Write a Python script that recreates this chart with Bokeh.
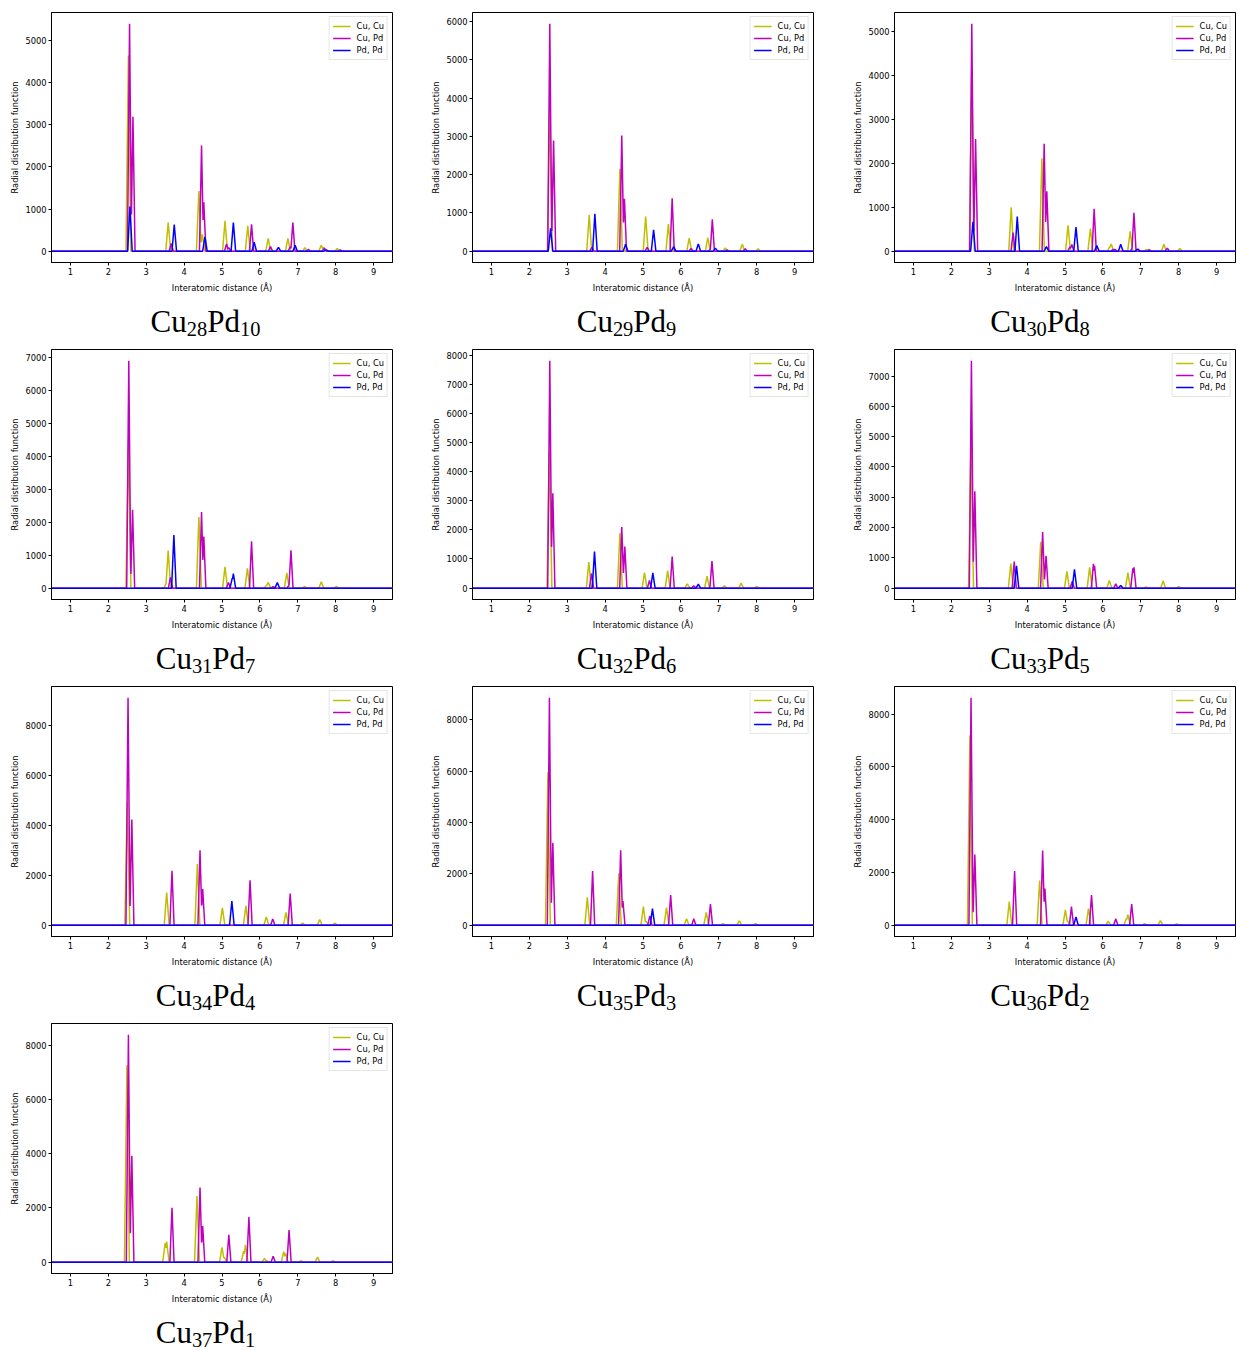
import numpy as np
from bokeh.plotting import figure
from bokeh.models import Range1d, FixedTicker, Legend, LegendItem, Div
from bokeh.layouts import row, column
from bokeh.embed import file_html
from bokeh.resources import INLINE

# ---------------- data (peak position in Å, peak height) ----------------
cu_atoms = [28, 29, 30, 31, 32, 33, 34, 35, 36, 37]
pd_atoms = [10, 9, 8, 7, 6, 5, 4, 3, 2, 1]
series_labels = ["Cu, Cu", "Cu, Pd", "Pd, Pd"]
x_ticks = [1, 2, 3, 4, 5, 6, 7, 8, 9]
y_tick_steps = [1000, 1000, 1000, 1000, 1000, 1000, 2000, 2000, 2000, 2000]

cucu_28 = [(2.53, 4650), (3.58, 680), (4.39, 1430), (4.48, 400), (5.08, 720), (5.68, 600), (6.22, 300),
           (6.74, 300), (7.19, 80), (7.62, 140), (7.68, 90), (8.04, 60)]
cupd_28 = [(2.56, 5400), (2.65, 3190), (3.66, 180), (4.46, 2510), (4.52, 1160), (5.12, 170), (5.18, 80),
           (5.78, 640), (6.28, 110), (6.80, 100), (6.87, 680), (7.28, 40), (7.70, 70), (8.12, 30)]
pdpd_28 = [(2.57, 1060), (3.74, 630), (4.55, 340), (5.30, 680), (5.85, 210), (6.49, 90), (6.93, 140), (7.75, 30)]

cucu_29 = [(2.54, 3800), (3.58, 940), (4.39, 2150), (5.07, 905), (5.67, 710), (6.22, 340), (6.71, 350),
           (7.17, 80), (7.62, 180), (8.04, 60)]
cupd_29 = [(2.54, 5940), (2.64, 2890), (3.65, 100), (4.44, 3020), (4.51, 1370), (5.11, 100), (5.77, 1380),
           (6.27, 70), (6.78, 60), (6.83, 830), (7.22, 30), (7.70, 60)]
pdpd_29 = [(2.56, 595), (3.73, 975), (4.54, 180), (5.28, 560), (5.81, 120), (6.46, 190), (6.91, 80)]

cucu_30 = [(2.54, 4200), (3.58, 1000), (4.39, 2110), (5.08, 585), (5.67, 515), (6.18, 100), (6.22, 165),
           (6.72, 450), (7.15, 40), (7.21, 40), (7.61, 155), (8.03, 60)]
cupd_30 = [(2.54, 5170), (2.64, 2550), (3.63, 420), (4.45, 2440), (4.52, 1360), (5.13, 100), (5.18, 150),
           (5.77, 965), (6.27, 40), (6.32, 40), (6.78, 80), (6.82, 870), (7.22, 30), (7.70, 70)]
pdpd_30 = [(2.57, 670), (3.74, 785), (4.51, 105), (5.29, 545), (5.84, 125), (6.47, 155), (6.92, 50)]

cucu_31 = [(2.53, 4500), (3.53, 150), (3.58, 1140), (4.39, 2160), (5.08, 650), (5.67, 600), (6.18, 100),
           (6.22, 180), (6.71, 460), (7.18, 50), (7.62, 190), (8.02, 50)]
cupd_31 = [(2.54, 6900), (2.64, 2380), (3.64, 330), (4.46, 2310), (4.52, 1570), (5.17, 170), (5.78, 1420),
           (6.35, 50), (6.77, 100), (6.82, 1150)]
pdpd_31 = [(3.73, 1610), (5.27, 300), (5.30, 440), (6.46, 170)]

cucu_32 = [(2.53, 4700), (3.57, 895), (4.39, 1890), (5.04, 530), (5.65, 600), (6.17, 150), (6.69, 410),
           (7.15, 80), (7.59, 170), (8.00, 60)]
cupd_32 = [(2.54, 7800), (2.62, 3260), (3.64, 510), (4.44, 2100), (4.52, 1430), (5.17, 260), (5.77, 1080),
           (6.34, 80), (6.82, 930)]
pdpd_32 = [(3.72, 1260), (5.26, 520), (6.46, 135)]

cucu_33 = [(2.52, 4800), (3.57, 810), (4.36, 1530), (5.05, 555), (5.65, 690), (6.17, 250), (6.66, 510),
           (7.14, 40), (7.59, 240), (8.00, 50)]
cupd_33 = [(2.53, 7500), (2.62, 3200), (3.66, 880), (4.41, 1850), (4.50, 1070), (5.19, 220), (5.75, 800),
           (5.78, 740), (6.34, 140), (6.79, 650), (6.82, 690)]
pdpd_33 = [(3.72, 740), (5.25, 620), (6.47, 90)]

cucu_34 = [(2.50, 4930), (3.54, 1310), (4.35, 2450), (5.01, 690), (5.63, 770), (6.17, 330), (6.69, 515),
           (7.13, 80), (7.58, 225), (7.98, 80)]
cupd_34 = [(2.52, 9120), (2.62, 4240), (3.68, 2180), (4.42, 3000), (4.49, 1450), (5.74, 1800), (6.34, 250),
           (6.80, 1270)]
pdpd_34 = [(5.26, 965)]

cucu_35 = [(2.49, 5960), (3.53, 1080), (4.36, 2020), (5.01, 720), (5.08, 150), (5.62, 680), (6.15, 245),
           (6.67, 500), (7.11, 60), (7.54, 170), (7.97, 60)]
cupd_35 = [(2.53, 8860), (2.62, 3210), (3.67, 2110), (4.41, 2920), (4.47, 940), (5.18, 360), (5.73, 1170),
           (6.34, 245), (6.78, 820)]
pdpd_35 = [(5.25, 640)]

cucu_36 = [(2.49, 7200), (3.53, 890), (4.33, 1690), (5.01, 575), (5.07, 150), (5.62, 625), (6.14, 150),
           (6.62, 250), (6.66, 400), (7.10, 60), (7.52, 175), (7.95, 50)]
cupd_36 = [(2.52, 8620), (2.62, 2680), (3.67, 2050), (4.41, 2830), (4.47, 1390), (5.17, 700), (5.70, 1140),
           (6.34, 240), (6.76, 800)]
pdpd_36 = [(5.29, 310)]

cucu_37 = [(2.49, 7260), (3.50, 700), (3.54, 755), (4.34, 2440), (5.00, 540), (5.06, 180), (5.57, 400),
           (5.62, 635), (6.12, 135), (6.18, 50), (6.63, 390), (6.68, 320), (7.08, 50), (7.52, 185), (7.93, 50)]
cupd_37 = [(2.53, 8380), (2.62, 3920), (3.68, 2000), (4.42, 2750), (4.49, 1330), (5.18, 1010), (5.71, 1660),
           (6.35, 220), (6.77, 1180)]
pdpd_37 = []

structures = [
    (cucu_28, cupd_28, pdpd_28), (cucu_29, cupd_29, pdpd_29), (cucu_30, cupd_30, pdpd_30),
    (cucu_31, cupd_31, pdpd_31), (cucu_32, cupd_32, pdpd_32), (cucu_33, cupd_33, pdpd_33),
    (cucu_34, cupd_34, pdpd_34), (cucu_35, cupd_35, pdpd_35), (cucu_36, cupd_36, pdpd_36),
    (cucu_37, cupd_37, pdpd_37),
]

# ---------------- styling ----------------
COLORS = ["#bfbf00", "#bf00bf", "#0000ff"]
HALF_WIDTHS = [0.065, 0.055, 0.06]
R_GRID = np.linspace(0.5, 9.5, 1801)
FONT = "DejaVu Sans"
FS = "8.3px"

FRAME_W = 341
FRAME_H = 252
BORDER_L = 51
BORDER_T = 12
BORDER_B = 31
COL_W = [421, 422, 394]
TITLE_PAD = [0, 0, 17]
TITLE_W = [411, 411, 377]
FIG_H = BORDER_T + FRAME_H + BORDER_B
CELL_H = 337


def curve(peaks, hw):
    y = np.zeros_like(R_GRID)
    for r0, g in peaks:
        tri = g * np.clip(1.0 - np.abs(R_GRID - r0) / hw, 0.0, None)
        y = np.maximum(y, tri)
    return y


def make_cell(i, col):
    peaks = structures[i]
    M = max([g for s in peaks for _, g in s] + [1])
    W = COL_W[col]
    p = figure(width=W, height=FIG_H, x_range=Range1d(0.5, 9.5), y_range=Range1d(-0.05 * M, 1.05 * M),
               output_backend="svg", toolbar_location=None,
               min_border_left=BORDER_L, min_border_right=W - BORDER_L - FRAME_W,
               min_border_top=BORDER_T, min_border_bottom=BORDER_B)
    p.xgrid.visible = False
    p.ygrid.visible = False
    p.outline_line_color = "black"
    p.outline_line_alpha = 1.0
    p.outline_line_width = 1
    p.background_fill_color = "white"
    p.border_fill_color = "white"

    renderers = []
    for s, color, hw in zip(peaks, COLORS, HALF_WIDTHS):
        r = p.line(R_GRID, curve(s, hw), line_color=color, line_width=1.5)
        renderers.append(r)

    step = y_tick_steps[i]
    p.xaxis.ticker = FixedTicker(ticks=x_ticks)
    p.yaxis.ticker = FixedTicker(ticks=list(range(0, int(1.05 * M) + 1, step)))
    p.xaxis.axis_label = "Interatomic distance (Å)"
    p.yaxis.axis_label = "Radial distribution function"
    for ax, standoff in ((p.xaxis, 5), (p.yaxis, 2)):
        ax.axis_label_text_font = FONT
        ax.axis_label_text_font_size = FS
        ax.axis_label_text_font_style = "normal"
        ax.axis_label_text_color = "black"
        ax.axis_label_standoff = standoff
        ax.major_label_text_font = FONT
        ax.major_label_text_font_size = FS
        ax.major_label_text_color = "black"
        ax.major_label_standoff = 2
        ax.major_tick_out = 3
        ax.major_tick_in = 0
        ax.minor_tick_out = 0
        ax.minor_tick_in = 0
        ax.axis_line_color = "black"
        ax.major_tick_line_color = "black"

    legend = Legend(items=[LegendItem(label=lab, renderers=[rr]) for lab, rr in zip(series_labels, renderers)],
                    location="top_right")
    legend.label_text_font = FONT
    legend.label_text_font_size = FS
    legend.label_text_color = "black"
    legend.label_height = 12
    legend.glyph_height = 12
    legend.glyph_width = 18
    legend.label_standoff = 6
    legend.padding = 3
    legend.spacing = 0
    legend.margin = 4
    legend.border_line_color = "#cccccc"
    legend.border_line_width = 1
    legend.background_fill_alpha = 0.8
    p.add_layout(legend)

    div_h = CELL_H - FIG_H
    sub = '<sub style="font-size:0.66em;vertical-align:-3.5px;line-height:0">'
    html = (f'<div style="width:{TITLE_W[col]}px;padding-left:{TITLE_PAD[col]}px;padding-top:11px;'
            f'text-align:center;font-family:\'Liberation Serif\',serif;font-size:31px;line-height:31px;'
            f'color:#000;white-space:nowrap">Cu{sub}{cu_atoms[i]}</sub>Pd{sub}{pd_atoms[i]}</sub></div>')
    d = Div(text=html, width=W, height=div_h, margin=0)
    return column(p, d, spacing=0)


rows = []
for rstart in range(0, 10, 3):
    idxs = list(range(rstart, min(rstart + 3, 10)))
    cells = [make_cell(i, c) for c, i in enumerate(idxs)]
    rows.append(row(*cells, spacing=0))

layout = column(*rows, spacing=0)

open("out.html", "w").write(file_html(layout, INLINE))
